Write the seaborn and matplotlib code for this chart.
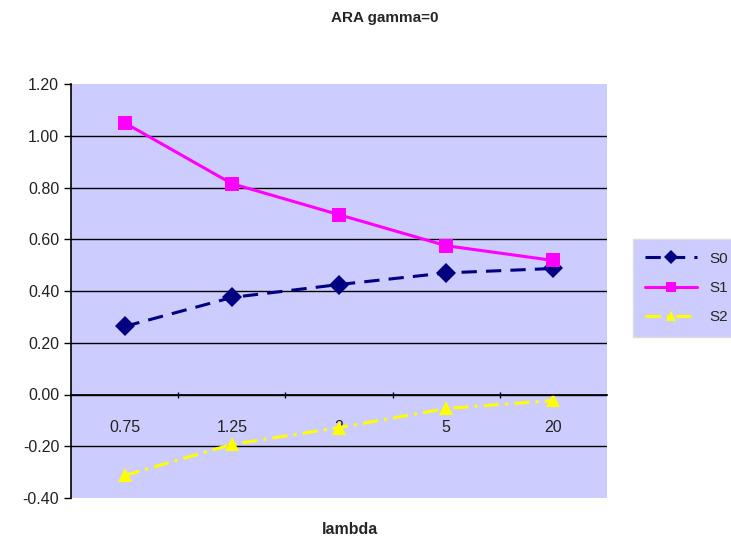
import matplotlib
matplotlib.use("Agg")
import matplotlib.pyplot as plt
import seaborn as sns
import pandas as pd
from matplotlib.ticker import FixedLocator, FormatStrFormatter

categories = ["0.75", "1.25", "2", "5", "20"]
s0 = [0.263, 0.375, 0.425, 0.470, 0.487]
s1 = [1.050, 0.815, 0.695, 0.575, 0.518]
s2 = [-0.313, -0.193, -0.128, -0.054, -0.023]
series_names = ["S0", "S1", "S2"]
y_ticks = [-0.40, -0.20, 0.00, 0.20, 0.40, 0.60, 0.80, 1.00, 1.20]
title = "ARA gamma=0"
xlabel = "lambda"

sns.set_theme(style="white")
plt.rcParams['font.family'] = ['Liberation Sans', 'DejaVu Sans']

df = pd.DataFrame({
    "lambda": categories * 3,
    "value": s0 + s1 + s2,
    "series": [n for n in series_names for _ in categories],
})

fig = plt.figure(figsize=(7.31, 5.44), dpi=100)
ax = fig.add_axes([71/731, 1-498/544, (607-71)/731, (498-84)/544])
ax.set_facecolor("#CCCCFF")

palette = {"S0": "#000080", "S1": "#FF00FF", "S2": "#FFFF00"}
markers = {"S0": "D", "S1": "s", "S2": "^"}
dashes = {"S0": (5, 3), "S1": "", "S2": (5, 2, 1, 2)}

sns.lineplot(data=df, x="lambda", y="value", hue="series", style="series",
             palette=palette, markers=markers, dashes=dashes,
             linewidth=2.2, markersize=10, markeredgewidth=0, ax=ax,
             sort=False)

ax.set_xlim(-0.5, 4.5)
ax.set_ylim(y_ticks[0], y_ticks[-1])
ax.set_yticks(y_ticks)
ax.yaxis.set_major_formatter(FormatStrFormatter("%.2f"))
for yv in y_ticks[1:-1]:
    ax.axhline(yv, color="black", linewidth=1.0, zorder=0.5)
ax.tick_params(axis="y", which="major", left=True, length=5, width=1, direction="out",
               labelsize=11.5, colors="black", labelcolor="#222222")

ax.spines["bottom"].set_position(("data", 0))
ax.spines["bottom"].set_color("black")
ax.spines["top"].set_visible(False)
ax.spines["right"].set_visible(False)
ax.spines["left"].set_color("black")
ax.spines["left"].set_linewidth(1.2)

ax.set_xticks(range(len(categories)))
ax.set_xticklabels(categories)
ax.xaxis.set_minor_locator(FixedLocator([0.5, 1.5, 2.5, 3.5]))
ax.tick_params(axis="x", which="major", length=0, pad=18, labelsize=11.5, labelcolor="#222222")
ax.tick_params(axis="x", which="minor", bottom=True, length=4, width=1, direction="inout", color="black")

ax.set_xlabel("")
ax.set_ylabel("")
fig.text(350/731, 1-530/544, xlabel, ha="center", va="center", fontsize=11.5, fontweight="bold")
fig.text(385/731, 1-18/544, title, ha="center", va="center", fontsize=11, fontweight="bold")

leg = ax.legend(title=None, loc="center left", bbox_to_anchor=(625/731, 1-288/544),
                bbox_transform=fig.transFigure, frameon=True, fancybox=False,
                fontsize=11, handlelength=3.4, borderpad=0.8, labelspacing=1.0,
                markerscale=0.7)
leg.get_frame().set_facecolor("#CCCCFF")
leg.get_frame().set_edgecolor("#DDDDDD")
leg.get_frame().set_alpha(1)

fig.savefig("out.png", dpi=100)
